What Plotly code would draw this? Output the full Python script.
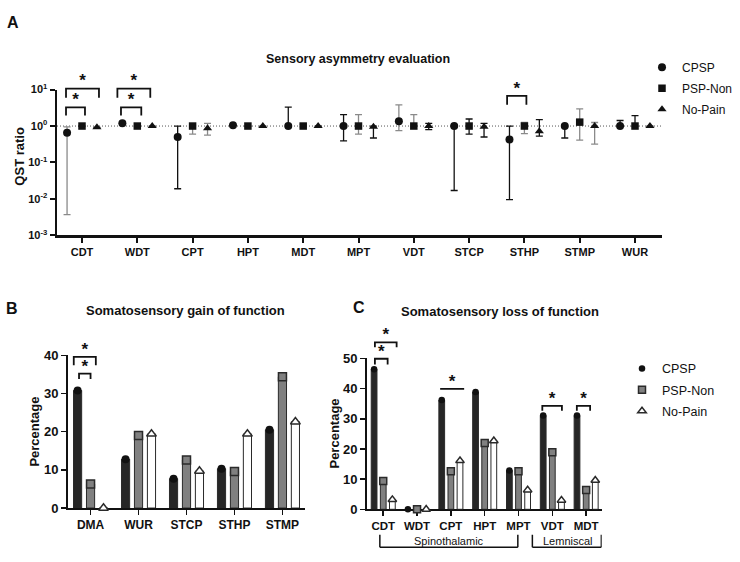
import math
import plotly.graph_objects as go

W, H = 740, 562
FONT = "Arial, 'Liberation Sans', sans-serif"

# ---------------- Panel A data: QST ratio (log scale) ----------------
qst_cats = ["CDT", "WDT", "CPT", "HPT", "MDT", "MPT", "VDT", "STCP", "STHP", "STMP", "WUR"]

cpsp_ratio = [0.65, 1.2, 0.5, 1.05, 1.0, 1.0, 1.35, 1.0, 0.43, 1.0, 1.0]
cpsp_low = [0.0037, 1.2, 0.019, 1.05, 1.0, 0.39, 0.75, 0.017, 0.0096, 0.47, 1.0]
cpsp_high = [0.95, 1.2, 1.0, 1.05, 3.3, 2.05, 3.8, 1.0, 1.0, 1.0, 1.42]
cpsp_err_grey = [True, False, False, False, False, False, True, False, False, False, False]

psp_ratio = [1.0, 1.0, 1.0, 1.0, 1.0, 1.0, 1.0, 1.0, 1.0, 1.28, 1.0]
psp_low = [1.0, 1.0, 0.6, 1.0, 0.95, 0.6, 1.0, 0.6, 0.62, 0.41, 1.0]
psp_high = [1.0, 1.0, 1.05, 1.0, 1.12, 2.05, 2.05, 1.56, 1.25, 2.97, 1.93]
psp_err_grey = [False, False, True, False, True, True, True, False, True, True, False]

nopain_ratio = [0.92, 1.0, 0.87, 1.0, 1.0, 0.95, 1.0, 0.95, 0.72, 1.0, 1.0]
nopain_low = [0.92, 1.0, 0.56, 1.0, 1.0, 0.47, 0.8, 0.5, 0.53, 0.32, 1.0]
nopain_high = [0.92, 1.0, 1.18, 1.0, 1.0, 1.0, 1.18, 1.18, 1.5, 1.25, 1.0]
nopain_err_grey = [False, False, True, False, False, False, False, False, False, True, False]

# ---------------- Panel B data: gain of function (%) ----------------
gain_cats = ["DMA", "WUR", "STCP", "STHP", "STMP"]
gain_cpsp = [30.8, 12.8, 7.7, 10.3, 20.5]
gain_psp = [6.3, 19.0, 12.6, 9.6, 34.4]
gain_nopain = [0.0, 19.4, 9.7, 19.4, 22.6]

# ---------------- Panel C data: loss of function (%) ----------------
loss_cats = ["CDT", "WDT", "CPT", "HPT", "MPT", "VDT", "MDT"]
loss_cpsp = [46.4, 0.0, 36.2, 38.9, 12.9, 31.1, 31.1]
loss_psp = [9.4, 0.0, 12.6, 22.0, 12.6, 18.9, 6.4]
loss_nopain = [3.2, 0.0, 16.1, 22.7, 6.4, 3.0, 9.6]

# significance brackets: (category index, left offset, right offset, top, leg end)
sig_a = [(0, -0.289, 0.307, 10.7, 6.0), (0, -0.289, 0.054, 3.27, 1.96),
         (1, -0.36, 0.235, 10.7, 6.0), (1, -0.295, 0.072, 3.27, 1.96),
         (8, -0.313, 0.036, 6.7, 3.86)]
sig_b = [(0, -0.35, 0.11, 39.6, 37.4), (0, -0.24, 0.0, 35.2, 33.8)]
sig_c = [(0, -0.246, 0.396, 55.3, 53.7), (0, -0.246, 0.13, 49.9, 48.0),
         (2, -0.317, 0.393, 39.9, 39.9), (5, -0.296, 0.284, 34.3, 32.7),
         (6, -0.275, 0.118, 34.3, 32.7)]

# ---------------- geometry (pixels) ----------------
A_X, A_Y = (57, 662), (84, 234)
B_X, B_Y = (68, 305), (357.5, 514.7)
C_X, C_Y = (367, 601.7), (360.7, 516)
A_XR, A_YR = [-0.452, 10.488], [-3, 1]
B_XR, B_YR = [-0.47, 4.47], [0, 40]
C_XR, C_YR = [-0.48, 6.46], [0, 50]


def xdom(p):
    return [p[0] / W, p[1] / W]


def ydom(p):
    return [1 - p[1] / H, 1 - p[0] / H]


def extend(dom, rng, top):
    s = (dom[1] - dom[0]) / (rng[1] - rng[0])
    return [dom[0], dom[1] + (top - rng[1]) * s], [rng[0], top]


OFF = [-0.27, 0.0, 0.27]
BLACK = "#111111"
GREY_ERR = "#8a8a8a"

fig = go.Figure()

# ---- Panel A ----
fig.add_trace(go.Scatter(x=A_XR, y=[1, 1], mode="lines", xaxis="x", yaxis="y",
                         line=dict(color="#555555", width=1, dash="1px,2px"),
                         showlegend=False, hoverinfo="skip"))

series_a = [
    ("CPSP", cpsp_ratio, cpsp_low, cpsp_high, cpsp_err_grey, "circle", 8),
    ("PSP-Non", psp_ratio, psp_low, psp_high, psp_err_grey, "square", 7.5),
    ("No-Pain", nopain_ratio, nopain_low, nopain_high, nopain_err_grey, "triangle-up", 8),
]
for k, (name, vals, lo, hi, grey, sym, sz) in enumerate(series_a):
    shown = False
    for want_grey, col in [(False, BLACK), (True, GREY_ERR)]:
        idx = [i for i in range(len(vals)) if grey[i] == want_grey]
        if not idx:
            continue
        xs = [i + OFF[k] for i in idx]
        ys = [vals[i] for i in idx]
        plus, minus = [], []
        for i in idx:
            if lo[i] == vals[i] and hi[i] == vals[i]:
                plus.append(None); minus.append(None)
            else:
                plus.append(hi[i] - vals[i]); minus.append(vals[i] - lo[i])
        fig.add_trace(go.Scatter(
            x=xs, y=ys, mode="markers", xaxis="x", yaxis="y", name=name,
            legendgroup=name, showlegend=not shown, legend="legend",
            marker=dict(symbol=sym, size=sz, color=BLACK),
            error_y=dict(type="data", symmetric=False, array=plus, arrayminus=minus,
                         color=col, thickness=1.3, width=3.5),
            cliponaxis=False, hoverinfo="skip"))
        shown = True

# ---- Panels B and C (bars + top markers) ----
bar_styles = [
    ("CPSP", "#262626", "circle", BLACK, BLACK),
    ("PSP-Non", "#808080", "square", "#808080", "#2a2a2a"),
    ("No-Pain", "#ffffff", "triangle-up", "#ffffff", "#2a2a2a"),
]


def add_bars(vals_list, xa, ya, msizes, legend_on):
    for k, vals in enumerate(vals_list):
        name, fill, sym, mfill, mline = bar_styles[k]
        xs = [i + OFF[k] for i in range(len(vals))]
        fig.add_trace(go.Bar(x=xs, y=vals, width=0.17, xaxis=xa, yaxis=ya,
                             marker=dict(color=fill, line=dict(color="#2a2a2a", width=1)),
                             showlegend=False, hoverinfo="skip"))
    for k, vals in enumerate(vals_list):
        name, fill, sym, mfill, mline = bar_styles[k]
        xs = [i + OFF[k] for i in range(len(vals))]
        fig.add_trace(go.Scatter(x=xs, y=vals, mode="markers", xaxis=xa, yaxis=ya,
                                 name=name, legend="legend2", showlegend=legend_on,
                                 legendgroup=name + "c",
                                 marker=dict(symbol=sym, size=msizes[k], color=mfill,
                                             line=dict(color=mline, width=1.5 if k else 0)),
                                 cliponaxis=False, hoverinfo="skip"))


add_bars([gain_cpsp, gain_psp, gain_nopain], "x2", "y2", [8, 8, 8.5], False)
add_bars([loss_cpsp, loss_psp, loss_nopain], "x3", "y3", [6.5, 7, 7.5], True)

# ---- significance brackets on extended overlay axes ----
A_OVD, A_OVR = extend(ydom(A_Y), A_YR, 1.5)
B_OVD, B_OVR = extend(ydom(B_Y), B_YR, 46)
C_OVD, C_OVR = extend(ydom(C_Y), C_YR, 62)
STAR_LIFT = 6.5  # px


def add_sig(sigs, xa, ya, ppu, log=False):
    bx, by, sx, sy = [], [], [], []
    for (c, l, r, top, leg) in sigs:
        bx += [c + l, c + l, c + r, c + r, None]
        by += [leg, top, top, leg, None]
        sx.append(c + (l + r) / 2)
        if log:
            sy.append(10 ** (math.log10(top) + STAR_LIFT / ppu))
        else:
            sy.append(top + STAR_LIFT / ppu)
    fig.add_trace(go.Scatter(x=bx, y=by, mode="lines", xaxis=xa, yaxis=ya,
                             line=dict(color=BLACK, width=1.8), showlegend=False,
                             hoverinfo="skip"))
    fig.add_trace(go.Scatter(x=sx, y=sy, mode="text", text=["*"] * len(sx),
                             textposition="middle center", xaxis=xa, yaxis=ya,
                             textfont=dict(family=FONT, size=17, color=BLACK, weight="bold"),
                             showlegend=False, cliponaxis=False, hoverinfo="skip"))


add_sig(sig_a, "x", "y4", (A_Y[1] - A_Y[0]) / (A_YR[1] - A_YR[0]), log=True)
add_sig(sig_b, "x2", "y5", (B_Y[1] - B_Y[0]) / (B_YR[1] - B_YR[0]))
add_sig(sig_c, "x3", "y6", (C_Y[1] - C_Y[0]) / (C_YR[1] - C_YR[0]))

# ---------------- axes ----------------
tick_b = dict(family=FONT, size=11, color=BLACK, weight="bold")
common = dict(showgrid=False, zeroline=False, showline=True, linecolor=BLACK,
              ticks="outside", tickcolor=BLACK, fixedrange=True)

fig.update_layout(
    xaxis=dict(domain=xdom(A_X), range=A_XR, anchor="y", tickvals=list(range(len(qst_cats))),
               ticktext=qst_cats, linewidth=2.5, tickwidth=2, ticklen=5, tickfont=tick_b,
               **common),
    yaxis=dict(domain=ydom(A_Y), range=A_YR, type="log", anchor="x",
               tickvals=[0.001, 0.01, 0.1, 1, 10],
               ticktext=["10<sup>-3</sup>", "10<sup>-2</sup>", "10<sup>-1</sup>",
                         "10<sup>0</sup>", "10<sup>1</sup>"],
               linewidth=2.5, tickwidth=2, ticklen=5, tickfont=tick_b, **common),
    xaxis2=dict(domain=xdom(B_X), range=B_XR, anchor="y2", tickvals=list(range(len(gain_cats))),
                ticktext=gain_cats, linewidth=2, tickwidth=1.5, ticklen=5,
                tickfont=dict(tick_b, size=12), layer="below traces", **common),
    yaxis2=dict(domain=ydom(B_Y), range=B_YR, anchor="x2", tickvals=[0, 10, 20, 30, 40],
                linewidth=2, tickwidth=1.5, ticklen=5, tickfont=dict(tick_b, size=13), **common),
    xaxis3=dict(domain=xdom(C_X), range=C_XR, anchor="y3", tickvals=list(range(len(loss_cats))),
                ticktext=loss_cats, linewidth=2, tickwidth=1.5, ticklen=5,
                tickfont=dict(tick_b, size=11.5), layer="below traces", **common),
    yaxis3=dict(domain=ydom(C_Y), range=C_YR, anchor="x3", tickvals=[0, 10, 20, 30, 40, 50],
                linewidth=2, tickwidth=1.5, ticklen=5, tickfont=dict(tick_b, size=13), **common),
    yaxis4=dict(domain=A_OVD, range=A_OVR, type="log", anchor="x", visible=False, fixedrange=True),
    yaxis5=dict(domain=B_OVD, range=B_OVR, anchor="x2", visible=False, fixedrange=True),
    yaxis6=dict(domain=C_OVD, range=C_OVR, anchor="x3", visible=False, fixedrange=True),
)

# ---------------- text ----------------
annots = []


def ann(text, x, y, size, bold=True, angle=0, xanchor="center", xref="paper"):
    annots.append(dict(text=text, x=x if xref != "paper" else x / W, y=1 - y / H,
                       xref=xref, yref="paper", showarrow=False, textangle=angle,
                       xanchor=xanchor, yanchor="middle",
                       font=dict(family=FONT, size=size, color=BLACK,
                                 weight="bold" if bold else "normal")))


ann("A", 13, 15, 16)
ann("B", 12, 309, 16)
ann("C", 358.5, 308, 16)
ann("Sensory asymmetry evaluation", 358, 53, 12.5)
ann("Somatosensory gain of function", 185, 311.5, 13)
ann("Somatosensory loss of function", 500, 312.5, 13)
ann("QST ratio", 20, 153, 13, angle=-90)
ann("Percentage", 35, 436, 13, angle=-90)
ann("Percentage", 335, 438, 13, angle=-90)
ann("Spinothalamic", 1.94, 548.5, 11, bold=False, xref="x3")
ann("Lemniscal", 5.45, 548.5, 11, bold=False, xref="x3")

shapes = []
for (l, r) in [(-0.1, 3.98), (4.41, 6.45)]:
    yt, yb = 1 - 542.3 / H, 1 - 555 / H
    for (x0, y0, x1, y1) in [(l, yt, l, yb), (l, yb, r, yb), (r, yb, r, yt)]:
        shapes.append(dict(type="line", xref="x3", yref="paper", x0=x0, y0=y0, x1=x1, y1=y1,
                           line=dict(color=BLACK, width=1.5)))

fig.update_layout(
    width=W, height=H, margin=dict(l=0, r=0, t=0, b=0),
    paper_bgcolor="white", plot_bgcolor="rgba(0,0,0,0)",
    barmode="overlay", annotations=annots, shapes=shapes,
    font=dict(family=FONT, color=BLACK),
    legend=dict(x=642 / W, y=1 - 46 / H, xanchor="left", yanchor="top",
                font=dict(family=FONT, size=12, color=BLACK), bgcolor="rgba(0,0,0,0)",
                tracegroupgap=2, traceorder="grouped"),
    legend2=dict(x=622 / W, y=1 - 356 / H, xanchor="left", yanchor="top",
                 font=dict(family=FONT, size=12.5, color=BLACK), bgcolor="rgba(0,0,0,0)",
                 tracegroupgap=2, traceorder="grouped"),
)

fig.write_html("out.html", config={"displayModeBar": False, "staticPlot": True},
               post_script="document.body.style.margin='0px';"
               "document.body.style.overflow='hidden';")
